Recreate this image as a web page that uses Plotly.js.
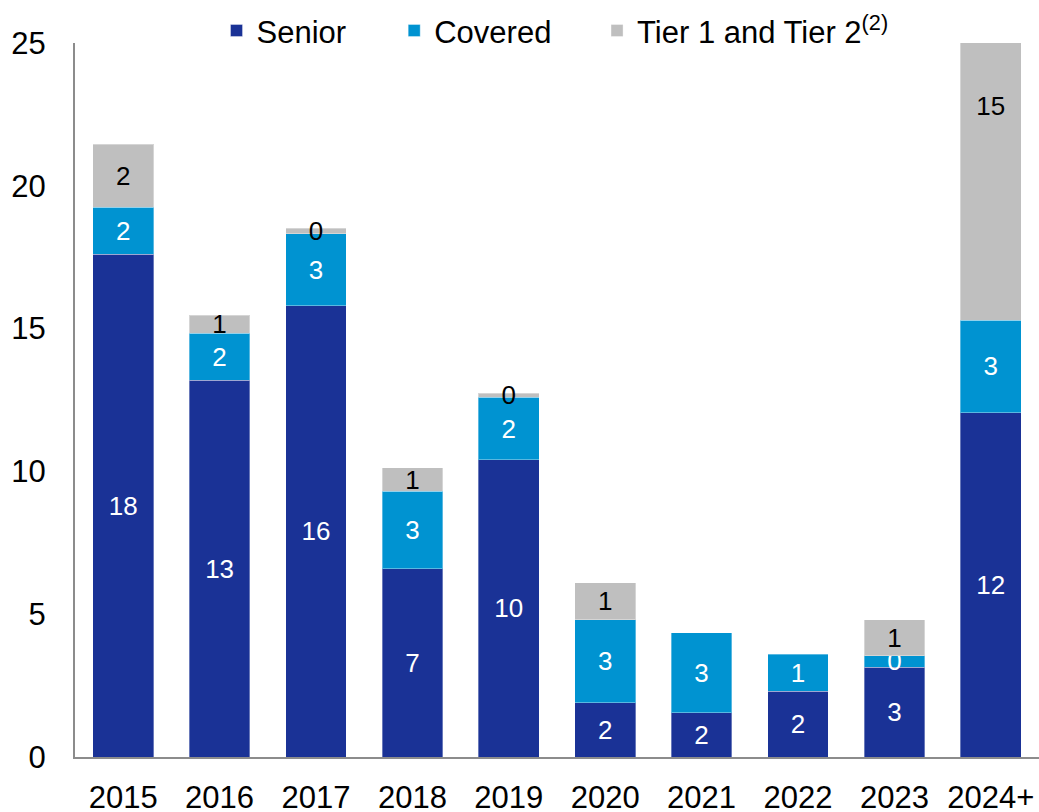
<!DOCTYPE html>
<html>
<head>
<meta charset="utf-8">
<script src="https://cdn.plot.ly/plotly-3.0.1.min.js"></script>
<style>html,body{margin:0;padding:0;background:#fff;}#chart{width:1039px;height:812px;}</style>
</head>
<body>
<div id="chart"></div>
<script>
var years = ["2015","2016","2017","2018","2019","2020","2021","2022","2023","2024+"];
var senior = [17.6, 13.2, 15.8, 6.6, 10.4, 1.9, 1.55, 2.3, 3.15, 12.05];
var covered = [1.65, 1.64, 2.52, 2.7, 2.2, 2.9, 2.8, 1.3, 0.4, 3.25];
var tier = [2.2, 0.63, 0.2, 0.83, 0.14, 1.3, null, null, 1.26, 15];
var seriesNames = ["Senior\u00a0\u00a0\u00a0\u00a0\u00a0", "Covered\u00a0\u00a0\u00a0\u00a0\u2009", "Tier 1 and Tier 2<sup>(2)</sup>"];
var colors = ["#1a3296", "#0093d1", "#bfbfbf"];
var FONT = '"Liberation Sans", Arial, sans-serif';

function mk(vals, i, txtColor) {
  return {
    type: 'bar', x: years, y: vals, name: seriesNames[i],
    marker: {color: colors[i], line: {color: 'rgba(255,255,255,0.35)', width: 1}},
    texttemplate: '%{y:.0f}', textposition: 'inside', insidetextanchor: 'middle',
    constraintext: 'none', cliponaxis: true,
    textangle: 0, insidetextfont: {family: FONT, size: 26, color: txtColor},
    hoverinfo: 'x+y'
  };
}
var data = [mk(senior, 0, '#ffffff'), mk(covered, 1, '#ffffff'), mk(tier, 2, '#000000')];
var layout = {
  width: 1039, height: 812,
  margin: {l: 75, r: 0, t: 43, b: 55},
  barmode: 'stack', bargap: 0.37,
  paper_bgcolor: '#fff', plot_bgcolor: '#fff',
  font: {family: FONT, size: 31, color: '#000'},
  xaxis: {type: 'category', showgrid: false, showline: true, linecolor: '#8c8c8c', linewidth: 2, ticks: '', tickfont: {family: FONT, size: 31}, ticklabelstandoff: 12},
  yaxis: {range: [0, 25], showgrid: false, zeroline: false, showline: true, linecolor: '#8c8c8c', linewidth: 2, ticks: '', tickvals: [0,5,10,15,20,25], tickfont: {family: FONT, size: 31}, ticklabelstandoff: 21},
  showlegend: true,
  legend: {orientation: 'h', x: 0.1468, y: 1.017, xanchor: 'left', yanchor: 'middle', font: {family: FONT, size: 31}, traceorder: 'normal', itemwidth: 30},
};
Plotly.newPlot('chart', data, layout, {displayModeBar: false, staticPlot: true});
</script>
</body>
</html>
